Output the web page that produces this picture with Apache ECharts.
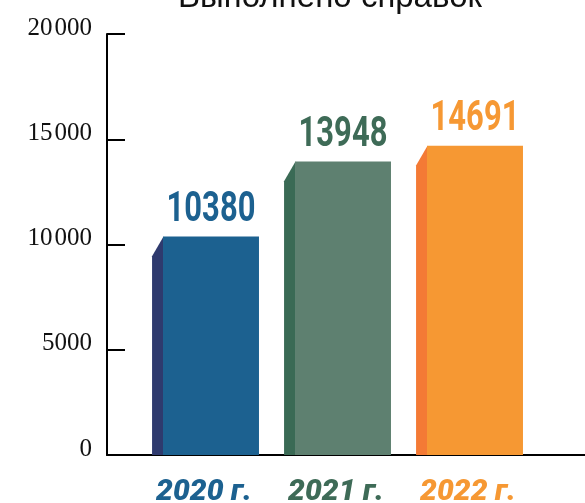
<!DOCTYPE html>
<html>
<head>
<meta charset="utf-8">
<script src="https://cdn.jsdelivr.net/npm/echarts@6/dist/echarts.min.js"></script>
<style>html,body{margin:0;padding:0;background:#fff;}#c{width:585px;height:503px;}</style>
</head>
<body>
<div id="c"></div>
<script>
const titleText = 'Выполнено справок';
const categories = ['2020 г.', '2021 г.', '2022 г.'];
const values = [10380, 13948, 14691];
const frontColors = ['#1c6190', '#5e8070', '#f69833'];
const sideColors = ['#2e3a6e', '#3a6a55', '#f47a35'];
const labelColors = ['#1c6190', '#3e6b57', '#f69833'];
const yMin = 0, yMax = 20000, yInterval = 5000;

function fmtY(v) {
  const s = String(v);
  return v >= 10000 ? s.replace(/\B(?=(\d{3})+(?!\d))/g, '\u200A') : s;
}

const chart = echarts.init(document.getElementById('c'), null, {renderer: 'canvas'});
chart.setOption({
  backgroundColor: '#fff',
  animation: false,
  title: {
    text: titleText, left: 325, top: -24, textAlign: 'center',
    textStyle: {fontFamily: 'Liberation Sans', fontWeight: 'normal', fontSize: 33, color: '#111'}
  },
  grid: [
    {left: 107, right: 0, top: 34, bottom: 48, containLabel: false, outerBoundsMode: 'none'},
    {left: 145, right: 44, top: 34, bottom: 48, containLabel: false, outerBoundsMode: 'none'}
  ],
  xAxis: [
    {gridIndex: 0, type: 'value', min: 0, max: 1, axisLine: {show: true, lineStyle: {color: '#000', width: 2}},
     axisTick: {show: false}, axisLabel: {show: false}, splitLine: {show: false}},
    {gridIndex: 1, type: 'category', data: categories, axisLine: {show: false}, axisTick: {show: false},
     axisLabel: {margin: 22, fontFamily: 'Roboto', fontWeight: 900, fontStyle: 'italic', fontSize: 30,
       padding: [0, 14, 0, 0],
       color: function (v, i) { return labelColors[categories.indexOf(v)]; }}}
  ],
  yAxis: [
    {gridIndex: 0, type: 'value', min: yMin, max: yMax, interval: yInterval,
     axisLine: {show: true, lineStyle: {color: '#000', width: 2}},
     axisTick: {show: true, inside: true, length: 18, lineStyle: {color: '#000', width: 2}},
     splitLine: {show: false},
     axisLabel: {margin: 15, fontFamily: 'Liberation Serif', fontSize: 25, lineHeight: 12, color: '#111',
       verticalAlign: 'bottom', formatter: fmtY}},
    {gridIndex: 1, type: 'value', min: yMin, max: yMax, show: false}
  ],
  series: [{
    type: 'custom', xAxisIndex: 1, yAxisIndex: 1,
    data: values.map((v, i) => [i, v]),
    renderItem: function (params, api) {
      const i = api.value(0);
      const top = api.coord([i, api.value(1)]);
      const base = api.coord([i, 0]);
      const band = api.size([1, 0])[0];
      const fw = band * 0.727, sw = band * 0.083, slant = band * 0.15;
      const cx = top[0];
      const fl = cx - fw / 2;
      return {
        type: 'group',
        children: [
          {type: 'polygon', shape: {points: [[fl - sw, top[1] + slant], [fl + 0.5, top[1]], [fl + 0.5, base[1]], [fl - sw, base[1]]]},
           style: {fill: sideColors[i]}},
          {type: 'rect', shape: {x: fl, y: top[1], width: fw, height: base[1] - top[1]}, style: {fill: frontColors[i]}},
          {type: 'text', x: cx, y: top[1] - 5, scaleX: 0.72,
           style: {text: String(values[i]), fill: labelColors[i], font: 'bold 43px Roboto', align: 'center', verticalAlign: 'bottom'}}
        ]
      };
    }
  }]
});
</script>
</body>
</html>
